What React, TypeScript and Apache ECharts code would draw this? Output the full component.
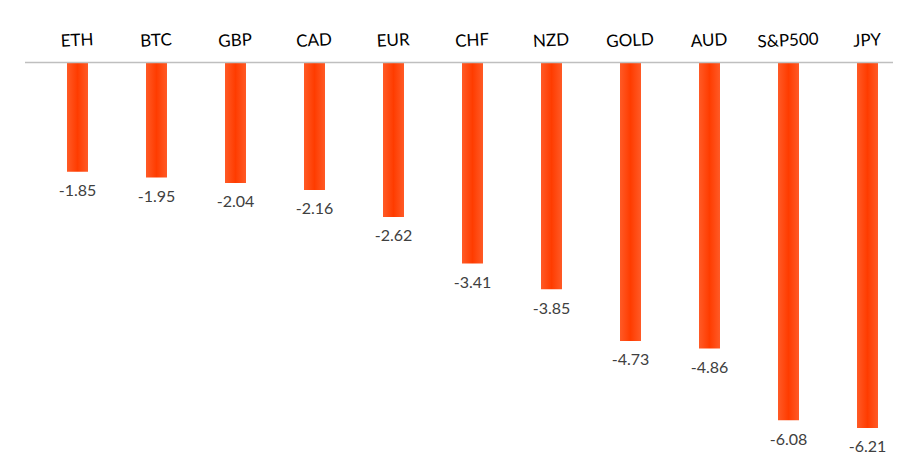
import React, { useEffect, useRef } from "react";
import * as echarts from "echarts";

const categories = ["ETH", "BTC", "GBP", "CAD", "EUR", "CHF", "NZD", "GOLD", "AUD", "S&P500", "JPY"];
const values = [-1.85, -1.95, -2.04, -2.16, -2.62, -3.41, -3.85, -4.73, -4.86, -6.08, -6.21];

export default function App() {
  const ref = useRef<HTMLDivElement>(null);
  useEffect(() => {
    document.body.style.margin = "0";
    if (!ref.current) return;
    const chart = echarts.init(ref.current, null, { renderer: "svg" });
    chart.setOption({
      animation: false,
      backgroundColor: "#ffffff",
      grid: { left: 38, right: 5, top: 63, bottom: 26, containLabel: false },
      xAxis: {
        type: "category",
        position: "top",
        data: categories,
        axisLine: { show: false },
        axisTick: { show: false },
        axisLabel: {
          interval: 0,
          rotate: 3,
          margin: 15,
          align: "center",
          verticalAlign: "bottom",
          color: "#000000",
          fontFamily: "Lato",
          fontSize: 17,
        },
      },
      yAxis: {
        type: "value",
        min: -6.5,
        max: 0,
        show: false,
        splitLine: { show: false },
      },
      graphic: [
        {
          type: "line",
          shape: { x1: 25, y1: 62.5, x2: 893, y2: 62.5 },
          style: { stroke: "#bfbfbf", lineWidth: 1.5 },
          z: 10,
        },
      ],
      series: [
        {
          type: "bar",
          data: values,
          barWidth: 21,
          itemStyle: {
            color: new echarts.graphic.LinearGradient(0, 0, 1, 0, [
              { offset: 0, color: "#ff5a26" },
              { offset: 0.5, color: "#ff3c00" },
              { offset: 1, color: "#ff5a26" },
            ]),
          },
          label: {
            show: true,
            position: "bottom",
            distance: 10,
            color: "#404040",
            fontFamily: "Lato",
            fontSize: 16,
            formatter: (p: any) => p.value.toFixed(2),
          },
        },
      ],
    });
    return () => chart.dispose();
  }, []);
  return <div ref={ref} style={{ width: 912, height: 471 }} />;
}
